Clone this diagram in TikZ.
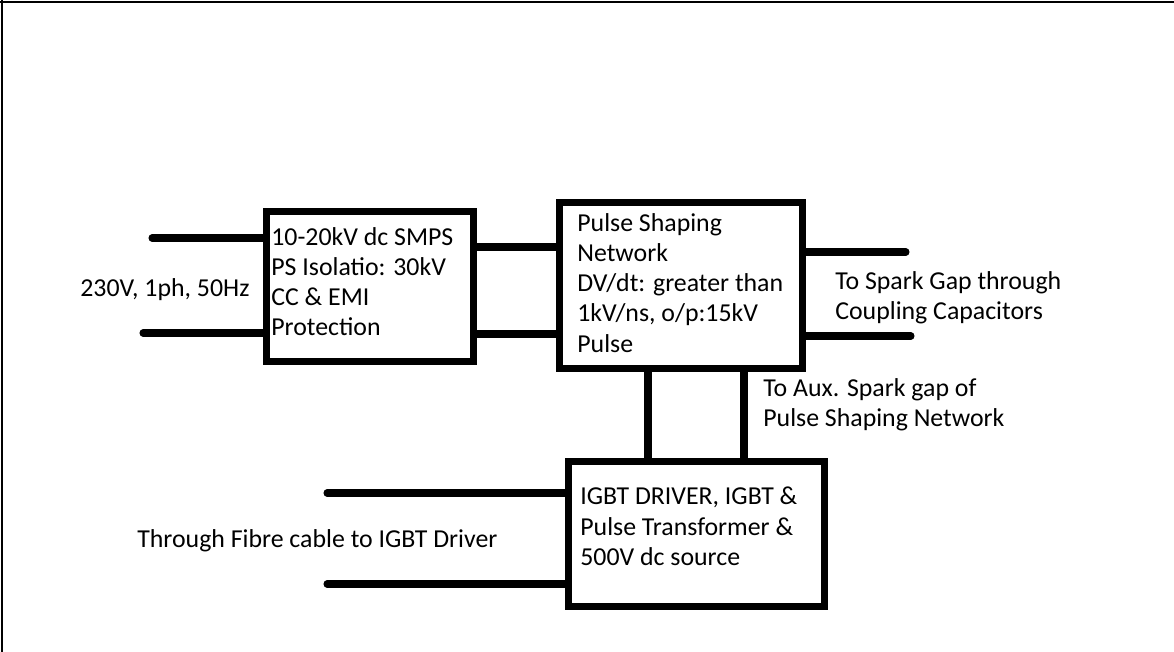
\documentclass[tikz,border=0pt]{standalone}
\usepackage{fontspec}
\setmainfont{Carlito}
\usetikzlibrary{positioning, calc}

\begin{document}
\begin{tikzpicture}[
    x=0.02cm, y=-0.02cm,
    block/.style={draw, line width=4pt, minimum width=#1, inner sep=0pt},
    txt/.style={font=\fontsize{14.7}{17.2}\selectfont, align=left, inner sep=0pt},
    wire/.style={line width=4pt, line cap=round}
]
    \useasboundingbox (0,0) rectangle (1174,652);
    % Frame
    \draw[line width=0.8pt] (0,2) -- (1174,2);
    \draw[line width=0.8pt] (2,0) -- (2,652);

    % Blocks
    \node[block=4.14cm, minimum height=3.0cm] (smps) at (370,286.5) {};
    \node[block=4.86cm, minimum height=3.32cm] (psn) at (681,285.5) {};
    \node[block=5.12cm, minimum height=2.9cm] (igbt) at (696.5,534) {};

    % Block texts
    \node[txt, anchor=north west] (smpstext) at (271,227) {10-20kV dc SMPS\\PS Isolatio: 30kV\\CC \& EMI\\Protection};
    \node[txt, anchor=north west] (psntext) at (577,213) {Pulse Shaping\\Network\\DV/dt: greater than\\1kV/ns, o/p:15kV\\Pulse};
    \node[txt, anchor=north west] (igbttext) at (580,487) {IGBT DRIVER, IGBT \&\\Pulse Transformer \&\\500V dc source};

    % Free ends
    \coordinate (ac1) at (152,238);
    \coordinate (ac2) at (143,333);
    \coordinate (out1) at (906,252);
    \coordinate (out2) at (911,336);
    \coordinate (fib1) at (327,493);
    \coordinate (fib2) at (327,584);

    % Wires
    \draw[wire] (ac1) -- (ac1 -| smps.west);
    \draw[wire] (ac2) -- (ac2 -| smps.west);
    \draw[wire] (smps.east |- 0,247) -- (psn.west |- 0,247);
    \draw[wire] (smps.east |- 0,334) -- (psn.west |- 0,334);
    \draw[wire] (out1 -| psn.east) -- (out1);
    \draw[wire] (out2 -| psn.east) -- (out2);
    \draw[wire] (psn.south -| 648,0) -- (igbt.north -| 648,0);
    \draw[wire] (psn.south -| 744,0) -- (igbt.north -| 744,0);
    \draw[wire] (fib1) -- (fib1 -| igbt.west);
    \draw[wire] (fib2) -- (fib2 -| igbt.west);

    % Labels
    \node[txt, anchor=west] (aclabel) at (80,290) {230V, 1ph, 50Hz};
    \node[txt, anchor=north west] (sparklabel) at (835,271) {To Spark Gap through\\Coupling Capacitors};
    \node[txt, anchor=north west] (auxlabel) at (763,378) {To Aux. Spark gap of\\Pulse Shaping Network};
    \node[txt, anchor=west] (fiblabel) at (137,541) {Through Fibre cable to IGBT Driver};
\end{tikzpicture}
\end{document}
